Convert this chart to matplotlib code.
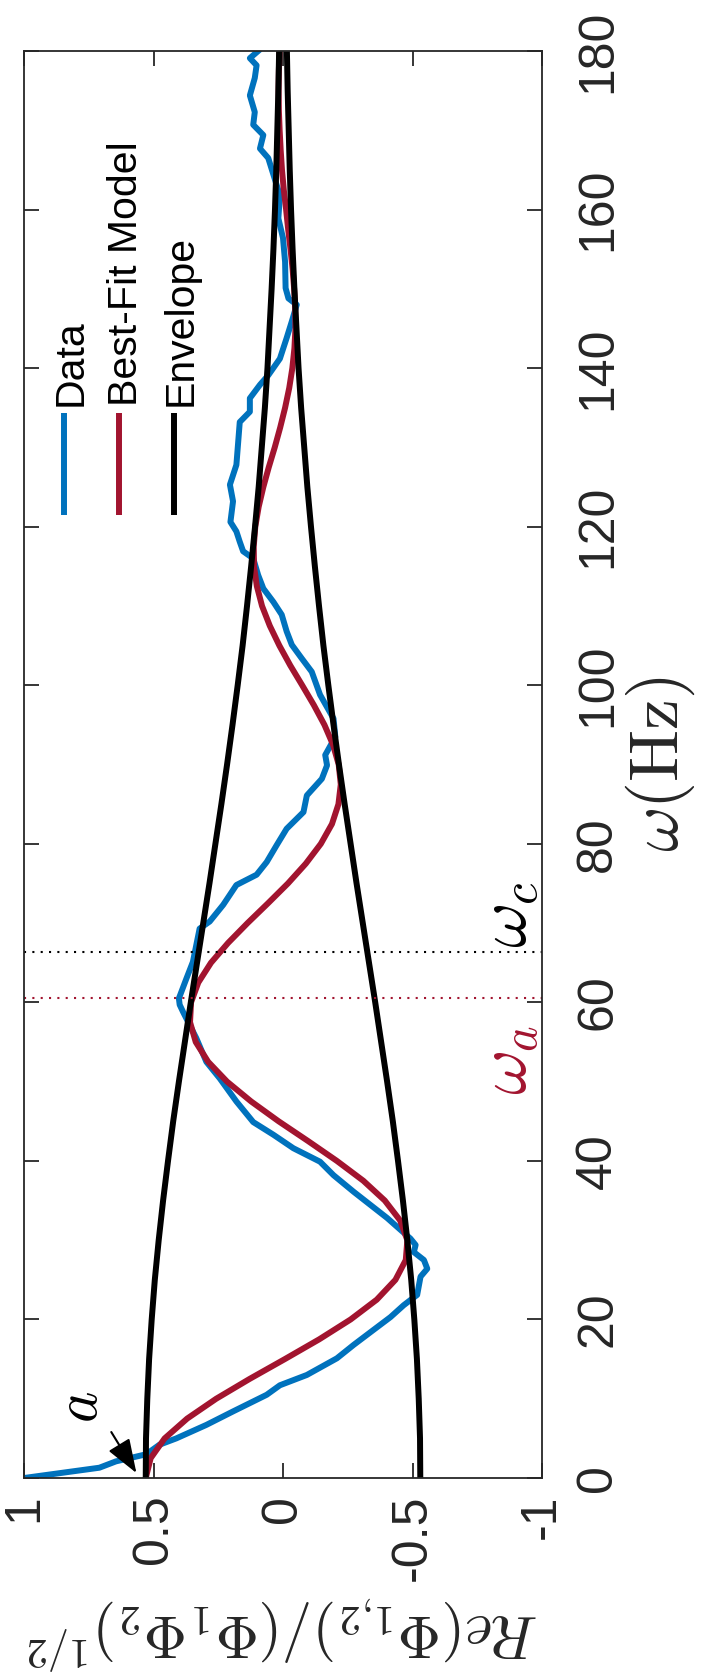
import numpy as np
import matplotlib.pyplot as plt

data_w = [0.0, 1.3, 2.1, 3.0, 4.2, 5.0, 6.7, 8.4, 10.5, 11.7, 13.0, 15.1, 16.8, 18.7,
          20.3, 21.8, 23.1, 25.4, 26.4, 27.5, 28.5, 29.4, 30.2, 32.8, 36.1, 38.2,
          39.9, 41.6, 43.3, 44.9, 47.5, 50.4, 52.5, 55.5, 58.8, 59.7, 60.5, 63.0,
          65.1, 69.3, 70.2, 72.3, 74.8, 76.1, 77.7, 79.8, 81.9, 84.0, 86.1, 88.2,
          89.9, 91.2, 93.5, 95.8, 98.8, 101.7, 103.4, 105.1, 106.8, 108.9, 110.5,
          112.2, 113.9, 116.0, 116.9, 118.1, 119.4, 120.6, 123.2, 125.3, 127.8,
          130.7, 133.2, 134.5, 136.2, 137.9, 139.1, 141.2, 143.8, 145.9, 148.0,
          148.8, 150.1, 153.4, 156.4, 158.9, 161.8, 164.4, 166.5, 167.7, 169.4,
          170.7, 172.3, 174.4, 176.6, 178.2, 179.1, 180.0]
data_re = [1.0, 0.709, 0.645, 0.528, 0.477, 0.412, 0.296, 0.193, 0.063, 0.012, -0.092,
           -0.208, -0.273, -0.350, -0.415, -0.466, -0.518, -0.531, -0.557, -0.544,
           -0.505, -0.512, -0.492, -0.402, -0.273, -0.195, -0.143, -0.040, 0.037,
           0.115, 0.180, 0.244, 0.296, 0.335, 0.386, 0.399, 0.402, 0.373, 0.348,
           0.322, 0.283, 0.231, 0.180, 0.102, 0.063, 0.025, -0.014, -0.079, -0.092,
           -0.150, -0.170, -0.163, -0.202, -0.195, -0.143, -0.111, -0.072, -0.034,
           -0.014, 0.005, 0.037, 0.076, 0.096, 0.115, 0.154, 0.167, 0.180, 0.203,
           0.193, 0.205, 0.180, 0.173, 0.167, 0.128, 0.128, 0.089, 0.057, 0.012,
           -0.014, -0.034, -0.053, -0.021, -0.010, -0.008, 0.0, 0.018, 0.012, 0.037,
           0.057, 0.089, 0.076, 0.115, 0.109, 0.128, 0.109, 0.102, 0.128, 0.096]

# Modelo ajustado (passo de 2.5 Hz)
model_w = np.arange(0, 180.1, 2.5)
model_re = [0.530, 0.511, 0.457, 0.370, 0.258, 0.129, -0.007, -0.140, -0.261, -0.362,
            -0.434, -0.474, -0.480, -0.452, -0.393, -0.310, -0.208, -0.097, 0.017,
            0.123, 0.216, 0.289, 0.337, 0.359, 0.355, 0.327, 0.278, 0.212, 0.137,
            0.058, -0.019, -0.088, -0.146, -0.189, -0.214, -0.223, -0.215, -0.193,
            -0.160, -0.119, -0.074, -0.028, 0.014, 0.051, 0.081, 0.101, 0.112, 0.113,
            0.107, 0.094, 0.076, 0.055, 0.032, 0.011, -0.008, -0.024, -0.036, -0.044,
            -0.048, -0.047, -0.043, -0.037, -0.029, -0.020, -0.012, -0.003, 0.004,
            0.009, 0.013, 0.016, 0.017, 0.016, 0.014]

# Envelope (passo de 5 Hz)
env_w = np.arange(0, 180.1, 5)
env_amp = np.array([0.530, 0.529, 0.524, 0.517, 0.507, 0.495, 0.480, 0.463, 0.444,
                    0.424, 0.402, 0.379, 0.356, 0.332, 0.308, 0.284, 0.261, 0.238,
                    0.216, 0.195, 0.175, 0.156, 0.139, 0.123, 0.108, 0.094, 0.082,
                    0.070, 0.060, 0.052, 0.044, 0.037, 0.031, 0.026, 0.022, 0.018,
                    0.015])

w_a = 60.5
w_c = 66.3

azul = '#0072BD'
vermelho = '#A2142F'
cinza = '#262626'
lw = 4.3

plt.rcParams['mathtext.fontset'] = 'cm'
plt.rcParams['font.family'] = ['Liberation Sans', 'DejaVu Sans']

fig = plt.figure(figsize=(7.02, 16.79), dpi=100)
ax = fig.add_axes([0.0342, 0.1197, 0.7379, 0.8499])

ax.plot(data_re, data_w, color=azul, lw=lw)
ax.plot(model_re, model_w, color=vermelho, lw=lw)
ax.plot(env_amp, env_w, color='k', lw=lw)
ax.plot(-env_amp, env_w, color='k', lw=lw)

ax.axhline(w_a, color=vermelho, lw=1.5, ls=(0, (1, 3)))
ax.axhline(w_c, color='k', lw=1.5, ls=(0, (1, 3)))

ax.set_xlim(1, -1)
ax.set_ylim(0, 180)
ax.set_xticks([1, 0.5, 0, -0.5, -1])
ax.set_xticklabels(['1', '0.5', '0', '-0.5', '-1'])
ax.set_yticks(range(0, 181, 20))

ax.tick_params(direction='in', length=11, width=1.3, color=cinza, top=True, right=True,
               labelleft=False, labelright=True, labelsize=36, labelcolor=cinza)
ax.tick_params(axis='x', labelrotation=90, pad=12)
ax.tick_params(axis='y', labelrotation=90, pad=24)
for t in ax.yaxis.get_ticklabels():
    t.set_va('center')
for s in ax.spines.values():
    s.set_color(cinza)
    s.set_linewidth(1.3)

xlab = ax.set_xlabel(r'$Re(\Phi_{1,\!2})/(\Phi_1\Phi_2)^{1/2}$', fontsize=40, rotation=180,
                     ha='center', va='center', color=cinza)
ax.xaxis.set_label_coords(0.5, -0.1086)
ax.yaxis.set_label_position('right')
ax.set_ylabel(r'$\omega(\mathrm{Hz})$', fontsize=50, rotation=90,
              ha='center', va='center', color=cinza)
ax.yaxis.set_label_coords(1.228, 0.5)

# Marcações
ax.text(-0.876, 52.7, r'$\omega_a$', color=vermelho, fontsize=50, rotation=90,
        ha='center', va='center')
ax.text(-0.876, 71.0, r'$\omega_c$', color='k', fontsize=50, rotation=90,
        ha='center', va='center')
ax.text(0.779, 9.0, r'$a$', color='k', fontsize=43, rotation=90, ha='center', va='center')
ax.annotate('', xy=(0.566, 0.63), xytext=(0.663, 5.8),
            arrowprops=dict(arrowstyle='-|>,head_length=1.05,head_width=0.38',
                            mutation_scale=20, lw=1.5, color='k', shrinkA=0, shrinkB=0))

# Legenda girada (feita à mão)
nomes = ['Data', 'Best-Fit Model', 'Envelope']
cores = [azul, vermelho, 'k']
for i in range(3):
    xl = 0.0778 + i * 0.1059
    ax.plot([xl, xl], [0.6751, 0.7463], color=cores[i], lw=lw, transform=ax.transAxes,
            solid_capstyle='butt')
    ax.text(xl + 0.0343, 0.7512, nomes[i], rotation=90, rotation_mode='anchor',
            ha='left', va='baseline', fontsize=29.5, color='k', transform=ax.transAxes)

# ajusta o tamanho do rótulo de baixo para ocupar a largura do eixo (~516 px)
fig.canvas.draw()
larg = xlab.get_window_extent().width
xlab.set_fontsize(40 * 512 / larg)

fig.savefig('out.png', dpi=100)
